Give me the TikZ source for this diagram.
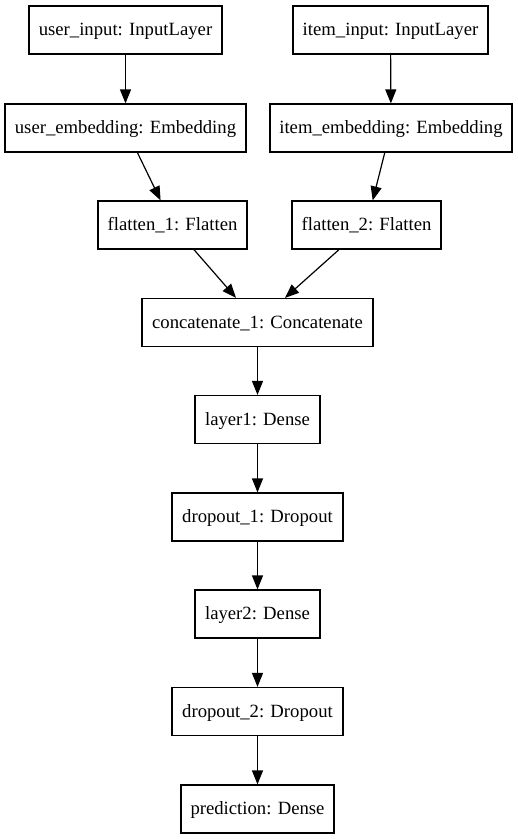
\documentclass[tikz,border=0pt]{standalone}
\usepackage{fontspec}
\setmainfont{Liberation Serif}
\usetikzlibrary{arrows.meta}
\begin{document}
\begin{tikzpicture}[x=1pt,y=-1pt,
  layer/.style={draw=black,line width=1.2pt,rectangle,minimum height=48pt,inner sep=0pt,text height=13.5pt,text depth=2.5pt,font=\fontsize{18.7}{20}\selectfont},
  conn/.style={line width=1.2pt,-{Triangle[length=14pt,width=11pt]}}]
\useasboundingbox (0,0) rectangle (518,839);
\node[layer,minimum width=193pt] (ui) at (125.5,30) {user\_input: InputLayer};
\node[layer,minimum width=195pt] (ii) at (390.5,30) {item\_input: InputLayer};
\node[layer,minimum width=241pt] (ue) at (125.5,128) {user\_embedding: Embedding};
\node[layer,minimum width=242pt] (ie) at (391,128) {item\_embedding: Embedding};
\node[layer,minimum width=149pt] (f1) at (172.5,225) {flatten\_1: Flatten};
\node[layer,minimum width=149pt] (f2) at (366.5,225) {flatten\_2: Flatten};
\node[layer,minimum width=231pt] (cc) at (257.5,322.5) {concatenate\_1: Concatenate};
\node[layer,minimum width=125pt] (l1) at (257.5,419.5) {layer1: Dense};
\node[layer,minimum width=171pt] (d1) at (257.5,517) {dropout\_1: Dropout};
\node[layer,minimum width=125pt] (l2) at (257.5,614) {layer2: Dense};
\node[layer,minimum width=171pt] (d2) at (257.5,711.5) {dropout\_2: Dropout};
\node[layer,minimum width=153pt] (pr) at (257.5,809) {prediction: Dense};
\draw[conn] (ui) -- (ue);
\draw[conn] (ii) -- (ie);
\draw[conn] (ue) -- (f1);
\draw[conn] (ie) -- (f2);
\draw[conn] (f1) -- (cc);
\draw[conn] (f2) -- (cc);
\draw[conn] (cc) -- (l1);
\draw[conn] (l1) -- (d1);
\draw[conn] (d1) -- (l2);
\draw[conn] (l2) -- (d2);
\draw[conn] (d2) -- (pr);
\end{tikzpicture}
\end{document}
